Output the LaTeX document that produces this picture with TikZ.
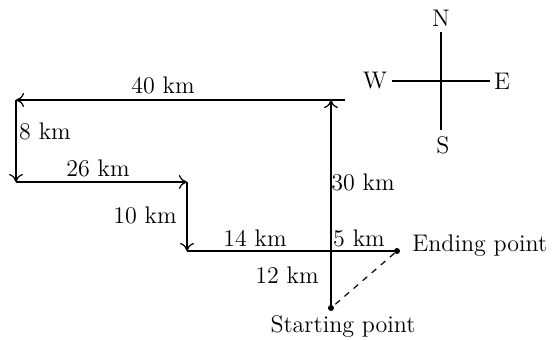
\documentclass[tikz,border=0pt]{standalone}
\usetikzlibrary{arrows.meta}
\begin{document}
\begin{tikzpicture}[x=0.5pt,y=-0.5pt,
  path/.style={line width=0.6pt,-{To[length=4pt,width=7pt]}},
  seg/.style={line width=0.6pt},
  lbl/.style={font=\fontsize{12}{14}\selectfont,inner sep=0pt},
  dot/.style={circle,fill,inner sep=0pt,minimum size=3pt}]
\useasboundingbox (0,0) rectangle (560,339);
% points
\node[dot] (start) at (331,308) {};
\coordinate (p1) at (331,100);
\coordinate (p1r) at (345,100);
\coordinate (p2) at (16,100);
\coordinate (p3) at (16,182);
\coordinate (p4) at (187,182);
\coordinate (p5) at (187,251);
\node[dot] (endp) at (397,251) {};
% path
\draw[path] (start.center) -- (p1);
\draw[seg] (p1r) -- (p1);
\draw[path] (p1) -- (p2);
\draw[path] (p2) -- (p3);
\draw[path] (p3) -- (p4);
\draw[path] (p4) -- (p5);
\draw[seg] (p5) -- (endp.center);
\draw[seg,dashed] (endp) -- (start);
% labels
\node[lbl] (l40) at (163,85) {40 km};
\node[lbl] (l8) at (45,131) {8 km};
\node[lbl] (l26) at (98,168) {26 km};
\node[lbl] (l10) at (145,215) {10 km};
\node[lbl] (l30) at (363,182) {30 km};
\node[lbl] (l14) at (255,238) {14 km};
\node[lbl] (l5) at (359,238) {5 km};
\node[lbl] (l12) at (287,275) {12 km};
\node[lbl,anchor=west] (lend) at (412,246) {Ending point};
\node[lbl] (lstart) at (343,326) {Starting point};
% compass
\coordinate (c) at (441,81);
\node[lbl] (N) at (441,18) {N};
\node[lbl] (S) at (443,145) {S};
\node[lbl] (W) at (375,81) {W};
\node[lbl] (E) at (502,81) {E};
\coordinate (nt) at (441,32);
\coordinate (sb) at (441,130);
\coordinate (wl) at (392,81);
\coordinate (er) at (490,81);
\draw[seg] (nt) -- (sb);
\draw[seg] (wl) -- (er);
\end{tikzpicture}
\end{document}
